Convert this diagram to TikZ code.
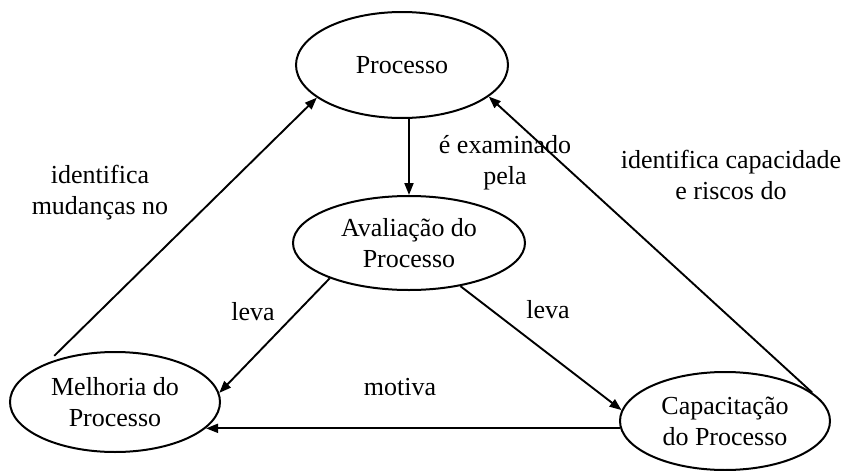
\documentclass[tikz,border=0pt]{standalone}
\usepackage{fontspec}
\setmainfont{Liberation Serif}
\usetikzlibrary{shapes.geometric,arrows.meta,calc}
\tikzset{
  oval/.style={draw, ellipse, line width=2pt, inner sep=0pt, align=center,
    font=\fontsize{26}{31}\selectfont},
  lbl/.style={align=center, inner sep=0pt, font=\fontsize{26}{31}\selectfont},
  arr/.style={line width=1.9pt, -{Triangle[length=12pt,width=9pt]}}
}
\begin{document}
\begin{tikzpicture}[x=1pt,y=-1pt]
\useasboundingbox (0,0) rectangle (852,471);
\node[oval, minimum width=212pt, minimum height=106pt] (P) at (402,65) {Processo};
\node[oval, minimum width=232pt, minimum height=94pt] (A) at (409,243) {Avaliação do\\Processo};
\node[oval, minimum width=210pt, minimum height=100pt] (M) at (115,402) {Melhoria do\\Processo};
\node[oval, minimum width=210pt, minimum height=98pt] (C) at (725,421) {Capacitação\\do Processo};

\draw[arr] (P.south -| A.north) -- (A.north);
\draw[arr] (A.204) -- (M.5);
\draw[arr] (A.320) -- (C.174);
\draw[arr] (C.184) -- (C.184 -| M.344);
\draw[arr, shorten <=10pt] (M.150) -- (P.201);
\draw[arr] (C.18) -- (P.340);

\node[lbl] (l1) at (505,163) {é examinado\\pela};
\node[lbl] (l2) at (100,193) {identifica\\mudanças no};
\node[lbl] (l3) at (731,175) {identifica capacidade\\e riscos do};
\node[lbl] (l4) at (253,312) {leva};
\node[lbl] (l5) at (548,310) {leva};
\node[lbl] (l6) at (400,387) {motiva};
\end{tikzpicture}
\end{document}
